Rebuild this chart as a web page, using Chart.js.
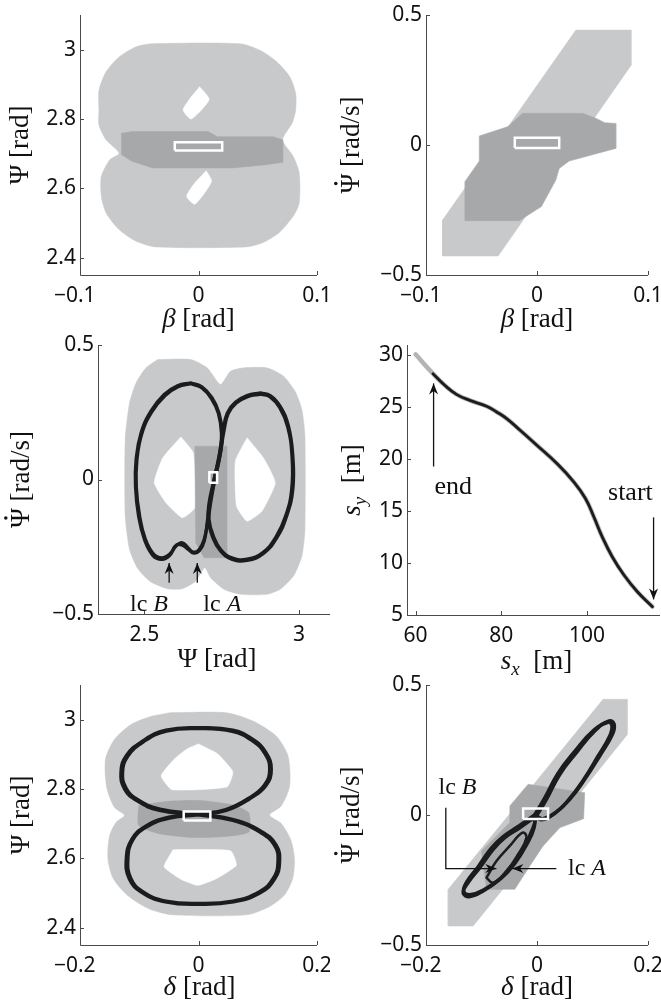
<!DOCTYPE html>
<html>
<head>
<meta charset="utf-8">
<script src="https://cdn.jsdelivr.net/npm/chart.js@4.4.0/dist/chart.umd.min.js"></script>
<style>
  body { margin: 0; background: #fff; width: 661px; height: 1007px; position: relative; overflow: hidden; }
  canvas { position: absolute; }
</style>
</head>
<body>
<canvas id="c1"></canvas>
<canvas id="c2"></canvas>
<canvas id="c3"></canvas>
<canvas id="c4"></canvas>
<canvas id="c5"></canvas>
<canvas id="c6"></canvas>
<script>
// ---- panel 1 : beta / Psi ----
const p1XTicks = [-0.1, 0, 0.1];
const p1XLabels = ['\u22120.1\u2002', '0', '0.1'];
const p1YTicks = [2.4, 2.6, 2.8, 3];
const p1YLabels = ['2.4', '2.6', '2.8', '3'];
const p1Light = [[-0.084,2.826],[-0.084,2.883],[-0.078,2.936],[-0.067,2.979],[-0.053,3.008],[-0.039,3.017],
  [0.035,3.017],[0.052,2.998],[0.066,2.965],[0.077,2.922],[0.082,2.874],[0.082,2.826],[0.079,2.788],[0.071,2.740],
  [0.080,2.692],[0.085,2.644],[0.085,2.558],[0.080,2.520],[0.068,2.472],[0.054,2.443],[0.040,2.431],[-0.036,2.431],
  [-0.053,2.448],[-0.067,2.481],[-0.078,2.529],[-0.082,2.577],[-0.082,2.634],[-0.075,2.682],[-0.067,2.701],
  [-0.078,2.740],[-0.084,2.783]];
const p1HoleUp = [[0.001,2.893],[0.009,2.856],[-0.006,2.800],[-0.013,2.826],[-0.007,2.860]];
const p1HoleDown = [[0.0065,2.651],[0.011,2.620],[-0.003,2.554],[-0.010,2.577],[-0.004,2.612]];
const p1Dark = [[-0.065,2.759],[-0.056,2.764],[0.008,2.764],[0.016,2.749],[0.063,2.749],[0.071,2.740],
  [0.071,2.675],[0.057,2.668],[0.029,2.659],[-0.039,2.659],[-0.056,2.678],[-0.065,2.697]];
const p1Box = [[-0.02,2.709],[0.02,2.709],[0.02,2.733],[-0.02,2.733]];

// ---- panel 2 : beta / Psi dot ----
const p2XTicks = [-0.1, 0, 0.1];
const p2XLabels = ['\u22120.1\u2002', '0', '0.1'];
const p2YTicks = [-0.5, 0, 0.5];
const p2YLabels = ['\u22120.5', '0', '0.5'];
const p2Light = [[-0.085,-0.427],[-0.035,-0.427],[0.085,0.308],[0.085,0.442],[0.035,0.442],[-0.085,-0.288]];
const p2Dark = [[-0.052,0.035],[-0.026,0.071],[-0.013,0.122],[0.041,0.122],[0.053,0.103],[0.061,0.086],
  [0.071,0.083],[0.071,-0.013],[0.029,-0.062],[0.020,-0.090],[0.017,-0.135],[0.004,-0.237],[-0.016,-0.291],
  [-0.065,-0.291],[-0.065,-0.141],[-0.052,-0.062]];
const p2Box = [[-0.02,-0.012],[0.02,-0.012],[0.02,0.028],[-0.02,0.028]];

// ---- panel 3 : Psi / Psi dot ----
const p3XTicks = [2.5, 3];
const p3XLabels = ['2.5', '3'];
const p3YTicks = [-0.5, 0, 0.5];
const p3YLabels = ['\u22120.5', '0', '0.5'];
const p3Light = [[2.543,0.446],[2.650,0.446],[2.703,0.415],[2.746,0.353],[2.778,0.402],[2.821,0.415],[2.896,0.415],
  [2.950,0.384],[2.987,0.328],[3.009,0.260],[3.019,0.161],[3.019,-0.186],[3.009,-0.285],[2.982,-0.359],[2.939,-0.408],
  [2.896,-0.427],[2.811,-0.427],[2.757,-0.408],[2.714,-0.365],[2.695,-0.328],[2.666,-0.377],[2.623,-0.406],
  [2.575,-0.406],[2.521,-0.381],[2.479,-0.332],[2.452,-0.260],[2.438,-0.136],[2.438,0.149],[2.452,0.285],
  [2.473,0.359],[2.505,0.415]];
const p3HoleLeft = [[2.618,0.158],[2.658,0.099],[2.663,-0.105],[2.623,-0.142],[2.570,-0.087],[2.532,-0.012],[2.559,0.080]];
const p3HoleRight = [[2.832,0.155],[2.885,0.080],[2.923,-0.012],[2.880,-0.118],[2.832,-0.155],[2.798,-0.099],[2.794,0.068]];
const p3Dark = [[2.663,0.124],[2.766,0.124],[2.766,-0.291],[2.693,-0.291],[2.666,-0.235]];
const p3Box = [[2.710,-0.012],[2.735,-0.012],[2.735,0.027],[2.710,0.027]];
const p3LoopB = [[2.650,0.359],[2.607,0.349],[2.564,0.316],[2.521,0.254],[2.489,0.173],[2.473,0.074],[2.471,-0.025],
  [2.481,-0.136],[2.500,-0.223],[2.527,-0.282],[2.556,-0.297],[2.580,-0.285],[2.602,-0.248],[2.623,-0.235],
  [2.641,-0.254],[2.658,-0.270],[2.677,-0.260],[2.693,-0.223],[2.706,-0.149],[2.716,-0.074],[2.730,0.012],
  [2.746,0.099],[2.752,0.173],[2.741,0.248],[2.719,0.303],[2.687,0.344],[2.650,0.359]];
const p3LoopB2 = [[2.651,0.356],[2.609,0.345],[2.567,0.312],[2.524,0.251],[2.492,0.171],[2.476,0.073],[2.474,-0.028],
  [2.485,-0.138],[2.503,-0.221],[2.529,-0.276],[2.556,-0.291],[2.582,-0.277],[2.604,-0.243],[2.624,-0.245],
  [2.643,-0.261],[2.660,-0.274],[2.679,-0.263],[2.694,-0.227],[2.704,-0.150],[2.714,-0.072],[2.728,0.014],
  [2.744,0.100],[2.749,0.171],[2.739,0.246],[2.717,0.300],[2.686,0.340],[2.651,0.356]];
const p3LoopA = [[2.875,0.322],[2.832,0.312],[2.794,0.287],[2.768,0.248],[2.755,0.186],[2.741,0.087],[2.725,0.000],
  [2.709,-0.087],[2.706,-0.149],[2.719,-0.210],[2.746,-0.266],[2.784,-0.297],[2.832,-0.301],[2.885,-0.275],
  [2.928,-0.217],[2.960,-0.136],[2.980,-0.037],[2.980,0.087],[2.966,0.198],[2.939,0.272],[2.907,0.312],[2.875,0.322]];
const p3LoopA2 = [[2.877,0.317],[2.834,0.308],[2.797,0.284],[2.771,0.245],[2.758,0.184],[2.744,0.086],[2.728,0.000],
  [2.712,-0.086],[2.709,-0.147],[2.722,-0.207],[2.748,-0.262],[2.785,-0.292],[2.832,-0.296],[2.883,-0.271],
  [2.925,-0.214],[2.957,-0.134],[2.976,-0.036],[2.977,0.086],[2.963,0.196],[2.937,0.268],[2.906,0.307],[2.877,0.317]];

// ---- panel 4 : path s_x / s_y ----
const p4XTicks = [60, 80, 100];
const p4XLabels = ['60', '80', '100'];
const p4YTicks = [5, 10, 15, 20, 25, 30];
const p4YLabels = ['5', '10', '15', '20', '25', '30'];
const p4Ref = [[60.0,30.1],[64.06,28.24],[66.80,27.12],[69.53,26.25],[72.66,25.67],[76.56,25.10],[78.91,24.55],
  [81.25,23.91],[84.38,22.79],[88.28,21.35],[92.97,19.58],[96.88,17.82],[99.61,16.22],[101.56,14.46],
  [103.52,12.53],[105.86,10.61],[108.59,8.85],[111.72,7.24],[115.23,5.80]];
const p4Driven = [[64.06,28.24],[66.80,27.12],[69.53,26.25],[72.66,25.67],[76.56,25.10],[78.91,24.55],
  [81.25,23.91],[84.38,22.79],[88.28,21.35],[92.97,19.58],[96.88,17.82],[99.61,16.22],[101.56,14.46],
  [103.52,12.53],[105.86,10.61],[108.59,8.85],[111.72,7.24],[115.23,5.80]];

// ---- panel 5 : delta / Psi ----
const p5XTicks = [-0.2, 0, 0.2];
const p5XLabels = ['\u22120.2\u2002', '0', '0.2'];
const p5YTicks = [2.4, 2.6, 2.8, 3];
const p5YLabels = ['2.4', '2.6', '2.8', '3'];
const p5Light = [[-0.049,3.020],[0.047,3.020],[0.092,2.996],[0.131,2.953],[0.151,2.896],[0.154,2.810],[0.140,2.752],
  [0.120,2.725],[0.140,2.700],[0.156,2.652],[0.162,2.599],[0.159,2.542],[0.145,2.494],[0.120,2.461],[0.081,2.437],
  [-0.043,2.437],[-0.083,2.454],[-0.119,2.492],[-0.144,2.542],[-0.153,2.599],[-0.150,2.666],[-0.139,2.704],
  [-0.125,2.724],[-0.142,2.747],[-0.155,2.805],[-0.157,2.886],[-0.142,2.943],[-0.114,2.986],[-0.083,3.008]];
const p5HoleUp = [[0,2.930],[0.032,2.902],[0.058,2.850],[0.048,2.806],[-0.045,2.798],[-0.063,2.838],[-0.040,2.888],[-0.018,2.917]];
const p5HoleDown = [[-0.043,2.625],[0.054,2.622],[0.064,2.580],[0.031,2.542],[-0.001,2.522],[-0.030,2.540],[-0.058,2.576]];
const p5Dark = [[-0.101,2.752],[-0.055,2.764],[0.002,2.767],[0.058,2.754],[0.085,2.731],[0.085,2.676],[0.052,2.664],
  [-0.010,2.660],[-0.066,2.671],[-0.101,2.695]];
const p5Box = [[-0.025,2.709],[0.02,2.709],[0.02,2.735],[-0.025,2.735]];
const p5Loop = [[0,2.725],[0.047,2.738],[0.086,2.771],[0.114,2.810],[0.123,2.857],[0.114,2.905],[0.092,2.943],
  [0.058,2.970],[0.002,2.977],[-0.055,2.970],[-0.094,2.939],[-0.122,2.896],[-0.131,2.848],[-0.125,2.800],
  [-0.105,2.767],[-0.066,2.738],[0,2.725],[0.058,2.709],[0.103,2.676],[0.128,2.638],[0.134,2.590],[0.126,2.542],
  [0.103,2.504],[0.058,2.477],[0.002,2.470],[-0.055,2.477],[-0.094,2.504],[-0.114,2.542],[-0.119,2.599],
  [-0.111,2.652],[-0.088,2.690],[-0.049,2.716],[0,2.725]];
const p5Loop2 = [[0,2.728],[0.046,2.741],[0.084,2.773],[0.111,2.811],[0.120,2.857],[0.112,2.902],[0.090,2.940],
  [0.057,2.966],[0.002,2.974],[-0.054,2.967],[-0.092,2.937],[-0.119,2.895],[-0.128,2.848],[-0.122,2.802],
  [-0.103,2.770],[-0.065,2.742],[0,2.728],[0.059,2.712],[0.106,2.678],[0.131,2.639],[0.137,2.590],[0.129,2.541],
  [0.105,2.501],[0.059,2.474],[0.002,2.467],[-0.056,2.474],[-0.096,2.502],[-0.117,2.541],[-0.122,2.599],
  [-0.113,2.654],[-0.090,2.692],[-0.050,2.719],[0,2.728]];

// ---- panel 6 : delta / Psi dot ----
const p6XTicks = [-0.2, 0, 0.2];
const p6XLabels = ['\u22120.2\u2002', '0', '0.2'];
const p6YTicks = [-0.5, 0, 0.5];
const p6YLabels = ['\u22120.5', '0', '0.5'];
const p6Light = [[-0.160,-0.427],[-0.115,-0.427],[0.163,0.310],[0.163,0.445],[0.119,0.445],[-0.160,-0.286]];
const p6Dark = [[-0.049,0.035],[-0.016,0.118],[0.086,0.086],[0.084,-0.014],[0.041,-0.049],[0.011,-0.119],
  [-0.013,-0.196],[-0.040,-0.286],[-0.091,-0.286],[-0.100,-0.138],[-0.073,-0.081],[-0.049,-0.029]];
const p6Box = [[-0.025,-0.015],[0.02,-0.015],[0.02,0.025],[-0.025,0.025]];
const p6LoopUp = [[-0.001,-0.004],[0.017,0.060],[0.041,0.156],[0.071,0.240],[0.104,0.323],[0.130,0.362],
  [0.139,0.349],[0.136,0.310],[0.113,0.227],[0.086,0.137],[0.059,0.060],[0.035,0.012],[0.011,-0.014],[-0.001,-0.004]];
const p6LoopUp2 = [[-0.004,0.001],[0.014,0.066],[0.038,0.161],[0.068,0.245],[0.102,0.326],[0.128,0.357],
  [0.135,0.344],[0.131,0.304],[0.109,0.223],[0.083,0.133],[0.056,0.056],[0.032,0.006],[0.008,-0.018],[-0.004,0.001]];
const p6LoopDown = [[-0.001,-0.004],[-0.031,-0.049],[-0.058,-0.087],[-0.079,-0.132],[-0.103,-0.203],[-0.124,-0.260],
  [-0.133,-0.299],[-0.122,-0.314],[-0.097,-0.292],[-0.067,-0.247],[-0.043,-0.190],[-0.022,-0.119],[-0.007,-0.049],[-0.001,-0.004]];
const p6LoopDown2 = [[-0.005,-0.001],[-0.034,-0.044],[-0.061,-0.083],[-0.083,-0.129],[-0.106,-0.199],[-0.126,-0.255],
  [-0.132,-0.294],[-0.119,-0.306],[-0.095,-0.287],[-0.064,-0.242],[-0.040,-0.186],[-0.019,-0.115],[-0.005,-0.047],[-0.005,-0.001]];
const p6LoopIn = [[-0.091,-0.241],[-0.073,-0.177],[-0.049,-0.119],[-0.026,-0.068],[-0.019,-0.087],[-0.034,-0.151],
  [-0.055,-0.215],[-0.079,-0.260],[-0.091,-0.241]];

const LIGHT = '#c8c9cb';
const DARK = '#a7a8aa';
const INK = '#1c1c1c';
const AXIS = '#4a4a4a';

const xy = a => a.map(([x, y]) => ({x, y}));

function region(a, color, order, tension) {
  return { data: xy(a.concat([a[0]])), fill: 'shape', backgroundColor: color, borderColor: color,
    borderWidth: 0.5, pointRadius: 0, tension: tension || 0, order };
}
function curve(a, color, width, order) {
  return { data: xy(a), fill: false, borderColor: color, borderWidth: width, pointRadius: 0,
    tension: 0.45, borderJoinStyle: 'round', borderCapStyle: 'round', order };
}
function outline(a) {
  return { data: xy(a.concat([a[0]])), fill: false, borderColor: '#fff', borderWidth: 2.5,
    pointRadius: 0, tension: 0, order: 0 };
}

function fontFor(style, size) {
  if (style === 'i') return 'italic ' + size + 'px "Liberation Serif"';
  if (style === 'si') return 'italic ' + Math.round(size * 0.7) + 'px "Liberation Serif"';
  return size + 'px "Liberation Serif"';
}
// parts: [text, style]; style 'r' roman, 'i' italic, 'si' italic subscript, 'rd' roman with a dot on top
function drawRich(ctx, parts, cx, cy, size) {
  ctx.textAlign = 'left';
  ctx.textBaseline = 'middle';
  let w = 0;
  parts.forEach(p => { ctx.font = fontFor(p[1], size); w += ctx.measureText(p[0]).width; });
  let x = cx - w / 2;
  parts.forEach(p => {
    ctx.font = fontFor(p[1], size);
    const tw = ctx.measureText(p[0]).width;
    ctx.fillText(p[0], x, cy + (p[1] === 'si' ? size * 0.28 : 0));
    if (p[1] === 'rd') {
      ctx.beginPath();
      ctx.arc(x + tw / 2, cy - size * 0.6, size * 0.065, 0, Math.PI * 2);
      ctx.fill();
    }
    x += tw;
  });
}
function drawArrow(ctx, pts) {
  ctx.beginPath();
  ctx.moveTo(pts[0][0], pts[0][1]);
  pts.slice(1).forEach(p => ctx.lineTo(p[0], p[1]));
  ctx.stroke();
  const [x1, y1] = pts[pts.length - 2], [x2, y2] = pts[pts.length - 1];
  const ang = Math.atan2(y2 - y1, x2 - x1), L = 11, W = 4.5;
  ctx.beginPath();
  ctx.moveTo(x2, y2);
  ctx.lineTo(x2 - L * Math.cos(ang) + W * Math.sin(ang), y2 - L * Math.sin(ang) - W * Math.cos(ang));
  ctx.lineTo(x2 - 0.7 * L * Math.cos(ang), y2 - 0.7 * L * Math.sin(ang));
  ctx.lineTo(x2 - L * Math.cos(ang) - W * Math.sin(ang), y2 - L * Math.sin(ang) + W * Math.cos(ang));
  ctx.closePath();
  ctx.fill();
}

const TITLE_SIZE = 27;

function decoPlugin(d) {
  return {
    id: 'deco',
    afterDraw(chart) {
      const {ctx, chartArea: a} = chart;
      const sx = chart.scales.x, sy = chart.scales.y;
      ctx.save();
      ctx.strokeStyle = AXIS; ctx.lineWidth = 1;
      ctx.beginPath();
      ctx.moveTo(a.left + 0.5, a.top);
      ctx.lineTo(a.left + 0.5, a.bottom + 0.5);
      ctx.lineTo(a.right, a.bottom + 0.5);
      sx.ticks.forEach(t => {
        const px = Math.round(sx.getPixelForValue(t.value)) + 0.5;
        ctx.moveTo(px, a.bottom); ctx.lineTo(px, a.bottom - 4);
      });
      sy.ticks.forEach(t => {
        const py = Math.round(sy.getPixelForValue(t.value)) + 0.5;
        ctx.moveTo(a.left, py); ctx.lineTo(a.left + 4, py);
      });
      ctx.stroke();

      ctx.strokeStyle = '#111'; ctx.fillStyle = '#111'; ctx.lineWidth = 1.3;
      (d.arrows || []).forEach(pl =>
        drawArrow(ctx, pl.map(([u, v]) => [sx.getPixelForValue(u), sy.getPixelForValue(v)])));

      (d.texts || []).forEach(t =>
        drawRich(ctx, t.parts, sx.getPixelForValue(t.x), sy.getPixelForValue(t.y), t.size));

      drawRich(ctx, d.xTitle, (a.left + a.right) / 2 + (d.xShift || 0), a.bottom + d.xOff, TITLE_SIZE);
      ctx.translate(a.left - d.yOff, (a.top + a.bottom) / 2 + (d.yShift || 0));
      ctx.rotate(-Math.PI / 2);
      drawRich(ctx, d.yTitle, 0, 0, TITLE_SIZE);
      ctx.restore();
    }
  };
}

function makePanel(id, box, area, xr, yr, xt, xl, yt, yl, datasets, deco) {
  const cv = document.getElementById(id);
  cv.width = box[2]; cv.height = box[3];
  cv.style.left = box[0] + 'px'; cv.style.top = box[1] + 'px';
  const yW = area[0] - box[0];
  const xH = box[1] + box[3] - area[3];
  const tickFont = {family: '"Noto Sans"', size: 21};
  new Chart(cv, {
    type: 'line',
    data: {datasets},
    options: {
      responsive: false,
      animation: false,
      events: [],
      layout: {autoPadding: false,
        padding: {left: 0, top: area[1] - box[1], right: box[0] + box[2] - area[2], bottom: 0}},
      plugins: {legend: {display: false}, tooltip: {enabled: false}},
      scales: {
        x: {
          type: 'linear', min: xr[0], max: xr[1],
          grid: {display: false, drawTicks: false}, border: {display: false},
          afterBuildTicks: s => { s.ticks = xt.map(v => ({value: v})); },
          afterFit: s => { s.height = xH; s.paddingLeft = 0; s.paddingRight = 0; s.paddingTop = 0; s.paddingBottom = 0; },
          ticks: {callback: (v, i) => xl[i], autoSkip: false, maxRotation: 0, padding: 8, color: '#111', font: tickFont}
        },
        y: {
          type: 'linear', min: yr[0], max: yr[1],
          grid: {display: false, drawTicks: false}, border: {display: false},
          afterBuildTicks: s => { s.ticks = yt.map(v => ({value: v})); },
          afterFit: s => { s.width = yW; s.paddingLeft = 0; s.paddingRight = 0; s.paddingTop = 0; s.paddingBottom = 0; },
          ticks: {callback: (v, i) => yl[i], autoSkip: false, padding: 4, color: '#111', font: tickFont}
        }
      }
    },
    plugins: [decoPlugin(deco)]
  });
}

const psiTitle = [['\u03A8 ', 'r'], ['[rad]', 'r']];
const psiDotTitle = [['\u03A8', 'rd'], [' [rad/s]', 'r']];
const betaTitle = [['\u03B2', 'i'], [' [rad]', 'r']];
const deltaTitle = [['\u03B4', 'i'], [' [rad]', 'r']];

makePanel('c1', [0, 0, 330, 345], [80, 15, 317, 275], [-0.1, 0.1], [2.35, 3.1],
  p1XTicks, p1XLabels, p1YTicks, p1YLabels,
  [region(p1Light, LIGHT, 6, 0.25), region(p1HoleUp, '#fff', 5, 0.2), region(p1HoleDown, '#fff', 5, 0.2),
   region(p1Dark, DARK, 4), outline(p1Box)],
  {xTitle: betaTitle, yTitle: psiTitle, xOff: 45, yOff: 59});

makePanel('c2', [330, 0, 331, 345], [426, 15, 648, 275], [-0.1, 0.1], [-0.5, 0.5],
  p2XTicks, p2XLabels, p2YTicks, p2YLabels,
  [region(p2Light, LIGHT, 6), region(p2Dark, DARK, 4), outline(p2Box)],
  {xTitle: betaTitle, yTitle: psiDotTitle, xOff: 45, yOff: 74});

makePanel('c3', [0, 330, 332, 345], [98, 345, 330, 614], [2.35, 3.1], [-0.5, 0.5],
  p3XTicks, p3XLabels, p3YTicks, p3YLabels,
  [region(p3Light, LIGHT, 6, 0.2), region(p3HoleLeft, '#fff', 5, 0.15), region(p3HoleRight, '#fff', 5, 0.15),
   region(p3Dark, DARK, 4), curve(p3LoopB, INK, 3.2, 2), curve(p3LoopB2, INK, 3.2, 2),
   curve(p3LoopA, INK, 3.2, 2), curve(p3LoopA2, INK, 3.2, 2), outline(p3Box)],
  {xTitle: psiTitle, yTitle: psiDotTitle, xOff: 46, yOff: 76, xShift: 3,
   arrows: [[[2.580, -0.384], [2.580, -0.310]], [[2.671, -0.384], [2.671, -0.310]]],
   texts: [{x: 2.515, y: -0.466, size: 24, parts: [['lc ', 'r'], ['B', 'i']]},
           {x: 2.752, y: -0.466, size: 24, parts: [['lc ', 'r'], ['A', 'i']]}]});

makePanel('c4', [330, 330, 331, 345], [407, 345, 660, 615], [58, 117], [5, 31],
  p4XTicks, p4XLabels, p4YTicks, p4YLabels,
  [curve(p4Ref, '#b4b4b4', 4.5, 3), curve(p4Driven, INK, 2.8, 2)],
  {xTitle: [['s', 'i'], ['x', 'si'], ['  [m]', 'r']], yTitle: [['s', 'i'], ['y', 'si'], ['  [m]', 'r']],
   xOff: 47, yOff: 54, xShift: 3,
   arrows: [[[64.2, 19.3], [64.2, 27.3]], [[115.5, 14.4], [115.5, 6.5]]],
   texts: [{x: 68.8, y: 17.3, size: 26, parts: [['end', 'r']]}, {x: 110.1, y: 16.7, size: 26, parts: [['start', 'r']]}]});

makePanel('c5', [0, 667, 330, 340], [80, 685, 317, 945], [-0.2, 0.2], [2.35, 3.1],
  p5XTicks, p5XLabels, p5YTicks, p5YLabels,
  [region(p5Light, LIGHT, 6, 0.25), region(p5HoleUp, '#fff', 5, 0.15), region(p5HoleDown, '#fff', 5, 0.15),
   region(p5Dark, DARK, 4, 0.2), curve(p5Loop, INK, 3.2, 2), curve(p5Loop2, INK, 3.2, 2), outline(p5Box)],
  {xTitle: deltaTitle, yTitle: psiTitle, xOff: 43, yOff: 58, xShift: 1});

makePanel('c6', [330, 667, 331, 340], [426, 685, 648, 945], [-0.2, 0.2], [-0.5, 0.5],
  p6XTicks, p6XLabels, p6YTicks, p6YLabels,
  [region(p6Light, LIGHT, 6), region(p6Dark, DARK, 4), curve(p6LoopUp, INK, 3.5, 2), curve(p6LoopUp2, INK, 3.5, 2),
   curve(p6LoopDown, INK, 3.5, 2), curve(p6LoopDown2, INK, 3.5, 2), curve(p6LoopIn, INK, 2.5, 2), outline(p6Box)],
  {xTitle: deltaTitle, yTitle: psiDotTitle, xOff: 43, yOff: 74,
   arrows: [[[-0.1643, 0.028], [-0.1643, -0.206], [-0.0732, -0.206]], [[0.0348, -0.206], [-0.0444, -0.206]]],
   texts: [{x: -0.1433, y: 0.105, size: 24, parts: [['lc ', 'r'], ['B', 'i']]},
           {x: 0.0900, y: -0.206, size: 24, parts: [['lc ', 'r'], ['A', 'i']]}]});
</script>
</body>
</html>
